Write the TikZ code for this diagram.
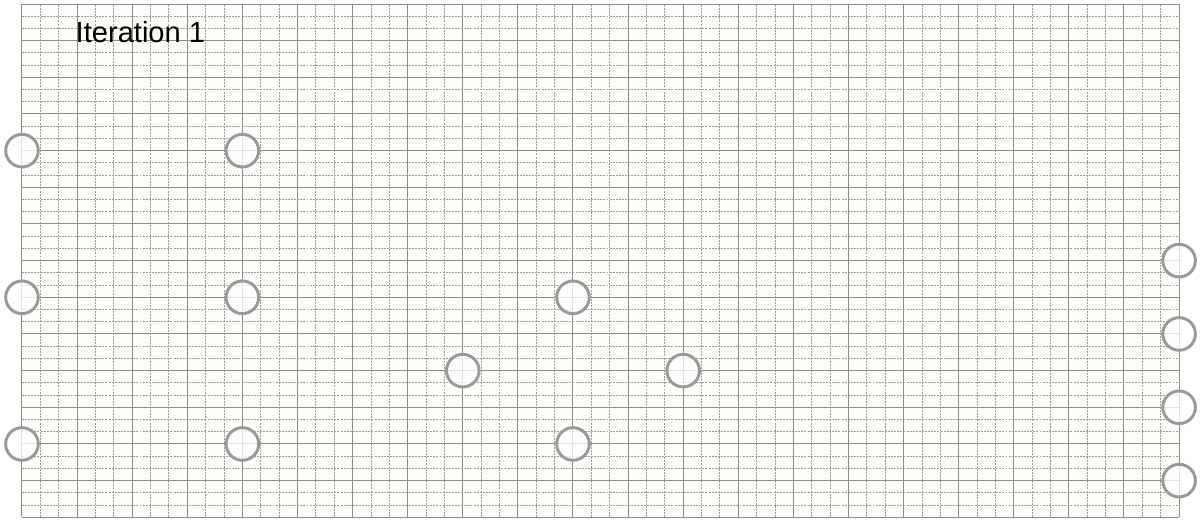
\documentclass[tikz,border=0pt]{standalone}
\usepackage{fontspec}
\setmainfont{Liberation Sans}
\definecolor{paper}{HTML}{FDFEF7}
\definecolor{gridline}{HTML}{8C8C8C}
\definecolor{ringgray}{HTML}{999999}
\tikzset{
  majorline/.style={draw=gridline, line width=0.7pt},
  minorline/.style={draw=gridline!85, line width=0.6pt, dash pattern=on 1.4pt off 0.8pt},
  ring/.style={circle, draw=ringgray, line width=2.1pt, fill=white, fill opacity=0.75,
    draw opacity=1, minimum size=0.815cm, inner sep=0pt},
}
\begin{document}
\begin{tikzpicture}[x=1.3775cm, y=0.9166cm]
    \useasboundingbox[fill=white] (-0.399,-0.074) rectangle (21.416,14.109);

    % Paper
    \fill[paper] (0,0) rectangle (21,14);

    % Minor grid
    \foreach \i in {0,...,20} {
        \draw[minorline] (\i+1/3,0) -- (\i+1/3,14);
        \draw[minorline] (\i+2/3,0) -- (\i+2/3,14);
    }
    \foreach \j in {0,...,13} {
        \draw[minorline] (0,\j+1/3) -- (21,\j+1/3);
        \draw[minorline] (0,\j+2/3) -- (21,\j+2/3);
    }

    % Major grid
    \foreach \i in {0,...,21}
        \draw[majorline] (\i,0) -- (\i,14);
    \foreach \j in {0,...,14}
        \draw[majorline] (0,\j) -- (21,\j);

    % Title
    \node[font=\fontsize{20.7}{24}\selectfont, inner sep=0pt, anchor=base west] (title) at (0.97,12.944) {Iteration 1};

    % Left block
    \node[ring] (a1) at (0,10) {};
    \node[ring] (a2) at (4,10) {};
    \node[ring] (b1) at (0,6) {};
    \node[ring] (b2) at (4,6) {};
    \node[ring] (b3) at (10,6) {};
    \node[ring] (c1) at (8,4) {};
    \node[ring] (c2) at (12,4) {};
    \node[ring] (d1) at (0,2) {};
    \node[ring] (d2) at (4,2) {};
    \node[ring] (d3) at (10,2) {};

    % Right edge
    \node[ring] (e1) at (21,7) {};
    \node[ring] (e2) at (21,5) {};
    \node[ring] (e3) at (21,3) {};
    \node[ring] (e4) at (21,1) {};
\end{tikzpicture}
\end{document}
